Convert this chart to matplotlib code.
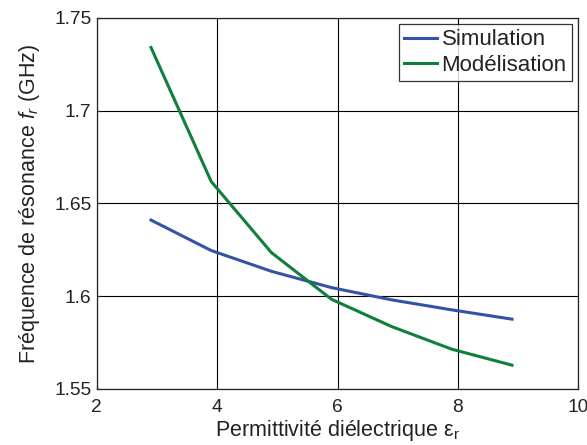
import matplotlib
matplotlib.use("Agg")
import matplotlib.pyplot as plt

plt.rcParams['font.family'] = ['Liberation Sans', 'DejaVu Sans']
plt.rcParams['mathtext.fontset'] = 'custom'
plt.rcParams['mathtext.rm'] = 'Liberation Sans'
plt.rcParams['mathtext.it'] = 'Liberation Sans:italic'

# données
permittivite = [2.9, 3.9, 4.9, 5.9, 6.9, 7.9, 8.9]
f_simulation = [1.641, 1.6246, 1.6134, 1.6046, 1.598, 1.5926, 1.5876]
f_modelisation = [1.734, 1.6618, 1.6235, 1.5983, 1.5836, 1.5714, 1.5628]

x_ticks = [2, 4, 6, 8, 10]
y_ticks = [1.55, 1.6, 1.65, 1.7, 1.75]
y_ticklabels = ['1.55', '1.6', '1.65', '1.7', '1.75']

txt = '#222222'

fig = plt.figure(figsize=(5.87, 4.45), dpi=100)
ax = fig.add_axes([0.165, 0.126, 0.82, 0.834])

ax.plot(permittivite, f_simulation, color='#3253a6', lw=2.2, label='Simulation')
ax.plot(permittivite, f_modelisation, color='#0f7f3c', lw=2.2, label='Modélisation')

ax.set_xlim(2, 10)
ax.set_ylim(1.55, 1.75)
ax.set_xticks(x_ticks)
ax.set_yticks(y_ticks)
ax.set_yticklabels(y_ticklabels)
ax.grid(True, color='black', lw=0.8, ls='-')
ax.tick_params(direction='in', labelsize=13.8, colors=txt, length=3)
ax.tick_params(axis='x', pad=7)
ax.tick_params(axis='y', pad=4)
for s in ax.spines.values():
    s.set_linewidth(0.9)
    s.set_color('#222222')

ax.set_xlabel('Permittivité diélectrique ε$_\\mathrm{r}$', fontsize=15.5, color=txt, labelpad=2)
ax.set_ylabel(r'Fréquence de résonance $f_r$ (GHz)', fontsize=15.5, color=txt, labelpad=9)

leg = ax.legend(loc='upper right', fontsize=16, frameon=True, fancybox=False,
                handlelength=1.5, handletextpad=0.2, borderpad=0.22,
                labelspacing=0.22, borderaxespad=0.3)
leg.get_frame().set_edgecolor('black')
leg.get_frame().set_linewidth(0.9)
for t in leg.get_texts():
    t.set_color(txt)

fig.savefig('out.png', dpi=100)
